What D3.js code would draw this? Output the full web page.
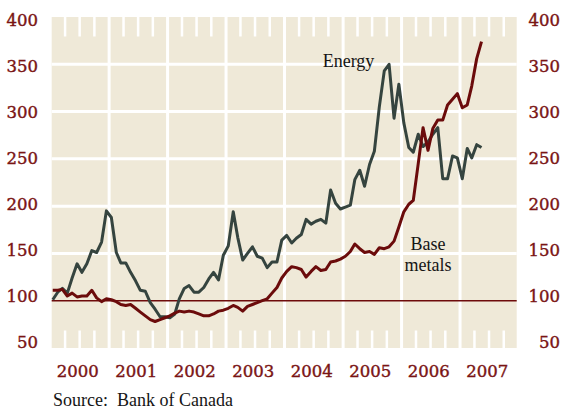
<!DOCTYPE html>
<html><head><meta charset="utf-8">
<script src="https://cdn.jsdelivr.net/npm/d3@7"></script>
<style>body{margin:0;background:#fff}svg{display:block}</style>
</head><body><svg id="c" width="563" height="409"></svg>
<script>
// Monthly index, Jan 2000 = first value (through May 2007)
const startDate = new Date(2000, 0, 15);
const energy = [101,109,113,108,124,139,130,139,153,151,162,195,
  188,151,140,140,130,121,111,110,98,91,83,83,
  82,86,102,113,116,109,109,114,123,130,122,148,
  158,194,167,143,150,157,147,145,135,141,141,164,
  169,161,166,170,186,181,184,186,182,217,203,197,
  199,201,228,238,221,244,258,305,343,350,293,329,
  288,262,257,276,263,268,276,283,229,229,253,251,
  229,261,251,265,262];
const baseMetals = [111,111,112,105,108,104,105,105,111,103,99,102,
  101,99,96,95,96,92,88,84,80,78,80,82,
  84,87,89,88,89,88,86,84,84,86,89,90,
  92,95,93,89,94,96,98,100,102,108,114,124,
  131,136,135,133,125,131,136,132,133,141,142,144,
  147,152,160,155,151,152,149,156,155,157,163,178,
  194,202,206,245,283,259,282,291,291,307,313,319,
  304,307,327,356,374];
const years = [2000,2001,2002,2003,2004,2005,2006,2007];
const yTickValues = [50,100,150,200,250,300,350,400];
const gridValues = [150,200,250,300,350];
const baseline = 100;
const seriesLabels = {energy: "Energy", base: ["Base", "metals"]};
const sourceText = "Source:  Bank of Canada";

const svg = d3.select("#c");
const plot = {left: 51.7, right: 516.7, top: 17, bottom: 348};
const x = d3.scaleTime().domain([new Date(2000,0,1), new Date(2008,0,1)]).range([50.5, 518.5]);
const y = d3.scaleLinear().domain([50, 400]).range([348, 17]);
const yLab = d3.scaleLinear().domain([50, 400]).range([342.5, 20]);

const dates = energy.map((_, i) => d3.timeMonth.offset(startDate, i));

const textRed = "#7a1414";
const bg = "#efe9d8";

svg.append("rect").attr("x", plot.left).attr("y", plot.top)
  .attr("width", plot.right - plot.left).attr("height", plot.bottom - plot.top)
  .attr("fill", bg);

// horizontal gridlines
svg.append("g").selectAll("line").data(gridValues).join("line")
  .attr("x1", plot.left).attr("x2", plot.right)
  .attr("y1", d => y(d)).attr("y2", d => y(d))
  .attr("stroke", "#fff").attr("stroke-width", 3);

// vertical year gridlines
const yearDates = years.slice(1).map(yr => new Date(yr, 0, 1));
svg.append("g").selectAll("line").data(yearDates).join("line")
  .attr("x1", d => x(d)).attr("x2", d => x(d))
  .attr("y1", plot.top).attr("y2", plot.bottom)
  .attr("stroke", "#fff").attr("stroke-width", 3);

// quarter ticks top and bottom
const quarters = x.ticks(d3.timeMonth.every(3)).filter(d => d.getMonth() !== 0);
const qg = svg.append("g");
qg.selectAll("line.t").data(quarters).join("line").attr("class","t")
  .attr("x1", d => x(d)).attr("x2", d => x(d))
  .attr("y1", plot.top).attr("y2", plot.top + 19.5)
  .attr("stroke", "#fff").attr("stroke-width", 2.5);
qg.selectAll("line.b").data(quarters).join("line").attr("class","b")
  .attr("x1", d => x(d)).attr("x2", d => x(d))
  .attr("y1", plot.bottom - 17.5).attr("y2", plot.bottom)
  .attr("stroke", "#fff").attr("stroke-width", 2.5);

// baseline 100
svg.append("line").attr("x1", plot.left).attr("x2", plot.right)
  .attr("y1", y(baseline)).attr("y2", y(baseline))
  .attr("stroke", "#6e0b0b").attr("stroke-width", 1.5);

const line = d3.line().x((d, i) => x(dates[i])).y(d => y(d));
svg.append("path").datum(energy).attr("d", line)
  .attr("fill", "none").attr("stroke", "#35443f").attr("stroke-width", 3)
  .attr("stroke-linejoin", "round");
svg.append("path").datum(baseMetals).attr("d", line)
  .attr("fill", "none").attr("stroke", "#6b0b0b").attr("stroke-width", 3)
  .attr("stroke-linejoin", "round");

// axis labels
const axFont = "'DejaVu Serif', serif";
function axText(sel) {
  sel.attr("font-family", axFont).attr("font-size", 16.5)
    .attr("fill", textRed).attr("stroke", textRed).attr("stroke-width", 0.4);
}
svg.append("g").selectAll("text").data(yTickValues).join("text")
  .attr("x", 38).attr("y", d => yLab(d)).attr("dy", "0.36em")
  .attr("text-anchor", "end").call(axText).text(d => d);
svg.append("g").selectAll("text").data(yTickValues).join("text")
  .attr("x", 560).attr("y", d => yLab(d)).attr("dy", "0.36em")
  .attr("text-anchor", "end").call(axText).text(d => d);
svg.append("g").selectAll("text").data(years).join("text")
  .attr("x", d => (x(new Date(d,0,1)) + x(new Date(d+1,0,1))) / 2 - 2)
  .attr("y", 377).attr("text-anchor", "middle")
  .call(axText).text(d => d);

// series labels
const lblFont = "'Liberation Serif', serif";
svg.append("text").attr("x", 348.5).attr("y", 67).attr("text-anchor", "middle")
  .attr("font-family", lblFont).attr("font-size", 18).attr("fill", "#151515")
  .text(seriesLabels.energy);
svg.append("text").attr("x", 428).attr("y", 250).attr("text-anchor", "middle")
  .attr("font-family", lblFont).attr("font-size", 18).attr("fill", "#151515")
  .text(seriesLabels.base[0]);
svg.append("text").attr("x", 428).attr("y", 271).attr("text-anchor", "middle")
  .attr("font-family", lblFont).attr("font-size", 18).attr("fill", "#151515")
  .text(seriesLabels.base[1]);

svg.append("text").attr("x", 53).attr("y", 406)
  .attr("font-family", lblFont).attr("font-size", 18).attr("fill", "#151515")
  .attr("xml:space", "preserve").style("white-space", "pre")
  .text(sourceText);
</script>
</body></html>
